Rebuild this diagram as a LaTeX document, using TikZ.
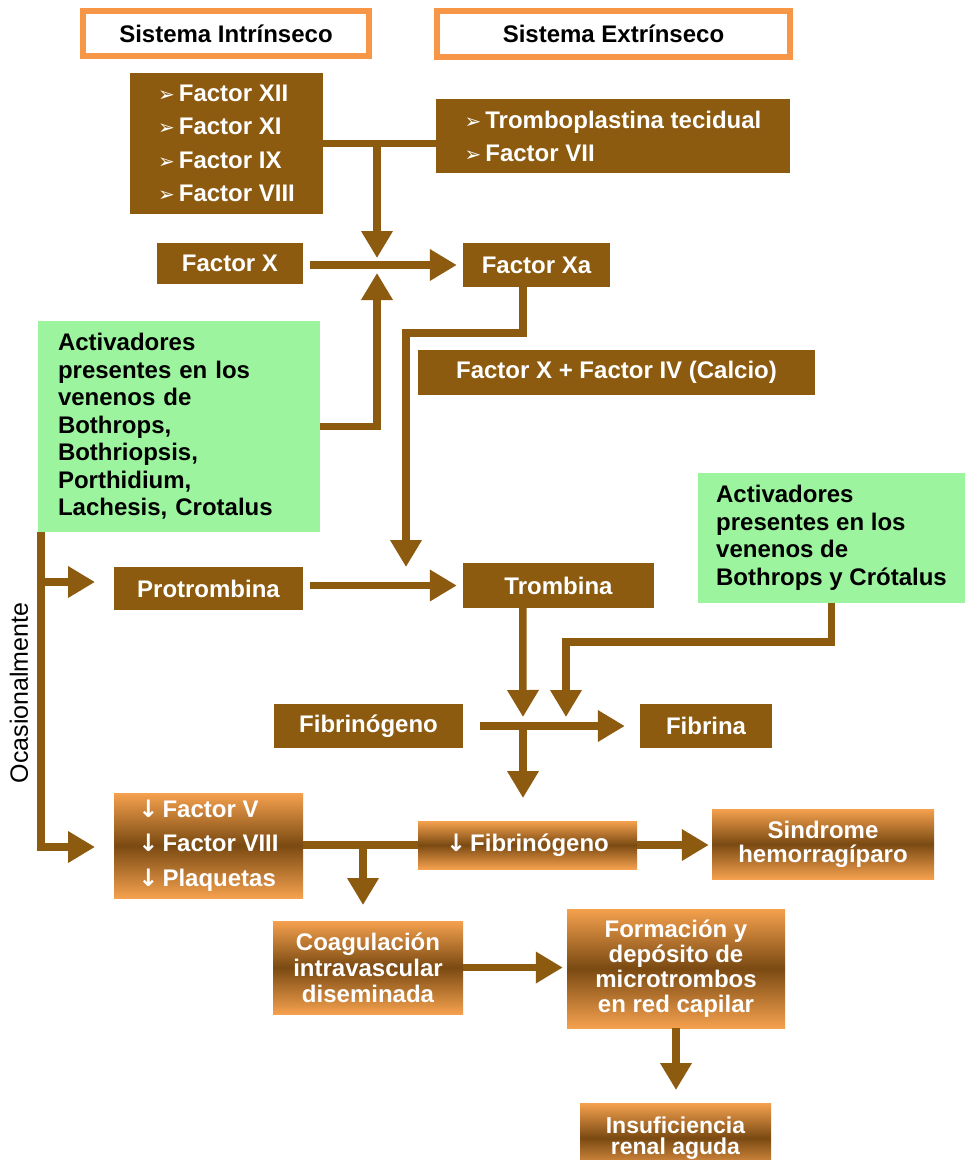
\documentclass[tikz,border=0pt]{standalone}
\usepackage{fontspec}
\setmainfont{Liberation Sans}
\newfontfamily\dingfont{DejaVu Sans}
\usetikzlibrary{arrows.meta}
\definecolor{brn}{HTML}{8C5B0F}
\definecolor{orng}{HTML}{F79646}
\definecolor{grn}{HTML}{9CF59E}
\definecolor{shadeorng}{HTML}{F5A14E}
\definecolor{shadebrn}{HTML}{7A4A12}
\newcommand{\bul}{{\dingfont\fontsize{20}{20}\selectfont ➢}\,}
\newcommand{\dwn}{{\dingfont\bfseries ↓}}
\begin{document}
\begin{tikzpicture}[x=1pt,y=-1pt,
  base/.style={inner sep=0pt, font=\bfseries\fontsize{24}{27.5}\selectfont},
  lead/.style={font=\bfseries\fontsize{24}{#1}\selectfont},
  hdr/.style={base, draw=orng, line width=6pt, fill=white, text=black},
  bbox/.style={base, fill=brn, text=white},
  gbox/.style={base, fill=grn, text=black, align=left},
  obox/.style={base, top color=shadeorng, bottom color=shadeorng, middle color=shadebrn, text=white, align=center},
  conn/.style={draw=brn, line width=7.5pt},
  arr/.style={conn, -{Triangle[length=27pt,width=30pt]}},
]
\fill[white] (0,0) rectangle (965,1160);
\useasboundingbox (0,0) rectangle (965,1160);

% headers
\node[hdr, minimum width=286pt, minimum height=45pt] (hI) at (226,33.5) {Sistema Intrínseco};
\node[hdr, minimum width=353pt, minimum height=46pt] (hE) at (613.5,34) {Sistema Extrínseco};

% brown boxes
\node[bbox, align=left, lead=33.5, minimum width=193pt, minimum height=141pt] (intr) at (226.5,143.5)
  {\bul Factor XII\\ \bul Factor XI\\ \bul Factor IX\\ \bul Factor VIII};
\node[bbox, align=left, lead=33, minimum width=354pt, minimum height=74pt] (extr) at (613,136)
  {\bul Tromboplastina tecidual\\ \bul Factor VII};
\node[bbox, minimum width=146pt, minimum height=41pt] (fX) at (230,263.5) {Factor X};
\node[bbox, minimum width=147pt, minimum height=44pt] (fXa) at (536.5,265) {Factor Xa};
\node[bbox, minimum width=397pt, minimum height=45pt] (calc) at (616.5,372.5) {Factor X + Factor IV (Calcio)};
\node[bbox, minimum width=189pt, minimum height=43pt] (prot) at (208.5,588.5) {Protrombina};
\node[bbox, minimum width=191pt, minimum height=45pt] (trom) at (558.5,585.5) {Trombina};
\node[bbox, minimum width=189pt, minimum height=44pt] (fbg) at (368.5,726) {Fibrinógeno};
\node[bbox, minimum width=132pt, minimum height=44pt] (fbn) at (706,726) {Fibrina};

% green boxes
\node[gbox, inner xsep=20pt, text width=242pt, minimum width=282pt, minimum height=211pt] (act1) at (179,426.5)
  {Activadores\\ presentes en los\\ venenos de\\ Bothrops,\\ Bothriopsis,\\ Porthidium,\\ Lachesis, Crotalus};
\node[gbox, minimum width=267pt, minimum height=130pt] (act2) at (831.5,538)
  {Activadores\\ presentes en los\\ venenos de\\ Bothrops y Crótalus};

% side label
\node[font=\fontsize{25}{25}\selectfont, rotate=90] (oc) at (19,693) {Ocasionalmente};

% shaded boxes
\node[obox, align=left, lead=34.5, minimum width=189pt, minimum height=105pt] (low) at (208.5,845.5)
  {\dwn\,Factor V\\ \dwn\,Factor VIII\\ \dwn\,Plaquetas};
\node[obox, minimum width=219pt, minimum height=48pt] (lowfib) at (527.5,845) {\dwn\,Fibrinógeno};
\node[obox, lead=24, minimum width=222pt, minimum height=70pt] (sind) at (823,844) {Sindrome\\ hemorragíparo};
\node[obox, lead=26, minimum width=190pt, minimum height=93pt] (cid) at (368,967.5) {Coagulación\\ intravascular\\ diseminada};
\node[obox, lead=25, minimum width=218pt, minimum height=119pt] (form) at (676,968.5) {Formación y\\ depósito de\\ microtrombos\\ en red capilar};
\node[obox, font=\bfseries\fontsize{23}{21}\selectfont, minimum width=191pt, minimum height=70pt] (insuf) at (675.5,1138) {Insuficiencia\\ renal aguda};

% junction and tip points
\coordinate (j1) at (377,143.5);
\coordinate (tA) at (377,258);
\coordinate (tB) at (377,273);
\coordinate (k1) at (406,333);
\coordinate (tC) at (406,567);
\coordinate (l1) at (41,582);
\coordinate (tP) at (95,582);
\coordinate (tL) at (95,847);
\coordinate (tD) at (523,717);
\coordinate (k2) at (566,642);
\coordinate (tE) at (566,717);
\coordinate (j2) at (523,726);
\coordinate (tF) at (523,798);
\coordinate (j3) at (363,845);
\coordinate (tG) at (363,905);
\coordinate (tH) at (676,1090);

% connectors
\draw[conn] (intr.east) -- (intr.east -| extr.west);
\draw[arr] (j1) -- (tA);
\draw[arr, shorten <=7pt, shorten >=6pt] (fX.east |- fXa.west) -- (fXa.west);
\draw[arr] (act1.east) -| (tB);
\draw[arr] ([xshift=60pt]fXa.south west) |- (k1) -- (tC);
\draw[arr] ([xshift=3pt]act1.south west) |- (tL);
\draw[arr] (l1) -- (tP);
\draw[arr, shorten <=7pt, shorten >=6pt] (prot.east |- trom.west) -- (trom.west);
\draw[arr] ([xshift=60pt]trom.south west) -- (tD);
\draw[arr] (act2.south) |- (k2) -- (tE);
\draw[arr, shorten <=17pt, shorten >=15pt] (fbg.east) -- (fbn.west);
\draw[arr] (j2) -- (tF);
\draw[conn] (low.east |- lowfib.west) -- (lowfib.west);
\draw[arr] (j3) -- (tG);
\draw[arr, shorten >=3pt] (lowfib.east) -- (lowfib.east -| sind.west);
\draw[arr, shorten >=4pt] (cid.east) -- (cid.east -| form.west);
\draw[arr] (form.south) -- (tH);
\end{tikzpicture}
\end{document}
